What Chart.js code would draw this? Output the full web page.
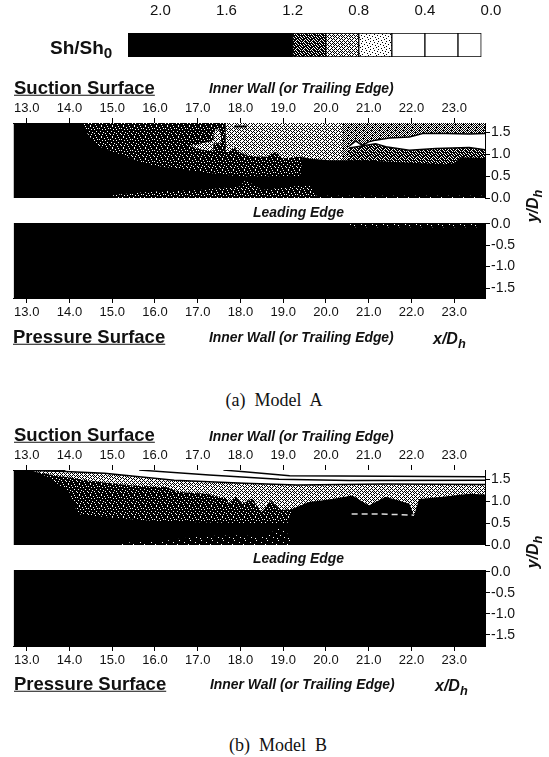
<!DOCTYPE html>
<html lang="en">
<head>
<meta charset="UTF-8">
<title>Sh/Sh0 contours, Model A and Model B</title>
<script src="https://cdn.jsdelivr.net/npm/chart.js"></script>
<style>
    html, body { margin: 0; padding: 0; background: #fff; overflow: hidden; }
    body { width: 549px; height: 757px; position: relative; color: #111; font-family: "Liberation Sans", Arial, sans-serif; }
    canvas { position: absolute; left: 0; }
    .t { position: absolute; line-height: 1; white-space: pre; transform: translateY(-50%); }
    .surface { font-weight: bold; font-size: 18.5px; text-decoration: underline; }
    .edge { font-weight: bold; font-style: italic; font-size: 13.9px; }
    .axis { font-weight: bold; font-style: italic; font-size: 16px; }
    .caption { font-family: "Liberation Serif", serif; font-size: 18px; }
    sub { font-size: 80%; line-height: 0; }
</style>
</head>
<body>
<canvas id="legend" width="549" height="70" style="top:0"></canvas>
<canvas id="aSuction" width="549" height="135" style="top:93px"></canvas>
<canvas id="aPressure" width="549" height="135" style="top:193px"></canvas>
<canvas id="bSuction" width="549" height="135" style="top:440px"></canvas>
<canvas id="bPressure" width="549" height="136" style="top:540px"></canvas>

<div class="t" style="left:50px;top:47px;font-weight:bold;font-size:19px">Sh/Sh<sub>0</sub></div>

<div class="t surface" style="left:14px;top:88px">Suction Surface</div>
<div class="t edge" style="left:209px;top:89px">Inner Wall (or Trailing Edge)</div>
<div class="t edge" style="left:253px;top:213px">Leading Edge</div>
<div class="t surface" style="left:13px;top:337px">Pressure Surface</div>
<div class="t edge" style="left:209px;top:338px">Inner Wall (or Trailing Edge)</div>
<div class="t axis" style="left:433px;top:339px">x/D<sub>h</sub></div>
<div class="t axis" style="left:533px;top:206px;transform:translate(-50%,-50%) rotate(-90deg)">y/D<sub>h</sub></div>
<div class="t caption" style="left:274px;top:400px;transform:translate(-50%,-50%)">(a)  Model  A</div>

<div class="t surface" style="left:14px;top:435px">Suction Surface</div>
<div class="t edge" style="left:209px;top:437px">Inner Wall (or Trailing Edge)</div>
<div class="t edge" style="left:253px;top:559px">Leading Edge</div>
<div class="t surface" style="left:14px;top:684px">Pressure Surface</div>
<div class="t edge" style="left:210px;top:685px">Inner Wall (or Trailing Edge)</div>
<div class="t axis" style="left:435px;top:686px">x/D<sub>h</sub></div>
<div class="t axis" style="left:533px;top:552px;transform:translate(-50%,-50%) rotate(-90deg)">y/D<sub>h</sub></div>
<div class="t caption" style="left:278px;top:745px;transform:translate(-50%,-50%)">(b)  Model  B</div>

<script>
    // axis ticks
    const xTicks = [13, 14, 15, 16, 17, 18, 19, 20, 21, 22, 23];
    const yTicksSuction = [0, 0.5, 1, 1.5];
    const yTicksPressure = [0, -0.5, -1, -1.5];
    const legendTicks = [2, 1.6, 1.2, 0.8, 0.4, 0];

    // colour bar cells
    const legendHigh = [2.196, 1.2, 1.0, 0.8, 0.6, 0.4, 0.2];
    const legendLow = [1.2, 1.0, 0.8, 0.6, 0.4, 0.2, 0.059];

    // Model A suction surface, contour edges
    const aLightX = [17.65, 20.4];
    const aLightY = [1.71, 1.71];
    const aMidX = [20.4, 23.72];
    const aMidY = [1.71, 1.71];
    const aLensTopX = [20.54, 20.7, 20.85, 21.0, 21.16, 21.48, 21.95, 22.26, 22.8, 23.35, 23.72];
    const aLensTopY = [1.18, 1.3, 1.2, 1.28, 1.32, 1.37, 1.39, 1.47, 1.47, 1.46, 1.47];
    const aLensBottomX = [20.54, 21.16, 21.4, 21.95, 22.57, 23.35, 23.72];
    const aLensBottomY = [1.14, 1.24, 1.17, 1.09, 1.13, 1.15, 1.1];
    const aDarkX = [14.2, 17.63, 17.65, 17.73, 17.84, 18.0, 18.2, 18.59, 18.82, 18.98, 19.37, 19.45];
    const aDarkY = [1.71, 1.71, 1.05, 1.05, 1.17, 1.03, 0.96, 0.94, 1.05, 0.9, 0.94, 0.94];
    const aBlobX = [16.81, 17.1, 17.36, 17.37, 17.42, 17.5, 17.55];
    const aBlobTop = [1.18, 1.25, 1.3, 1.45, 1.56, 1.56, 1.45];
    const aBlobBottom = [1.18, 1.1, 1.08, 1.25, 1.25, 1.25, 1.25];
    const aBlackX = [12.69, 14.3, 14.4, 14.63, 15.33, 15.88, 17.05, 17.98, 19.4, 19.45, 19.6, 20.07, 20.85, 21.63, 22.26, 22.8, 23.0, 23.15, 23.72];
    const aBlackY = [1.71, 1.71, 1.5, 1.2, 0.94, 0.75, 0.6, 0.49, 0.5, 0.94, 0.9, 0.86, 0.86, 0.82, 0.79, 0.77, 0.79, 0.93, 0.91];
    const aStripX = [15.02, 15.88, 17.05, 17.98, 18.12, 18.5, 19.6, 19.76];
    const aStripY = [0.07, 0.14, 0.18, 0.26, 0.41, 0.18, 0.3, 0.09];
    const aThinX = [19.76, 23.72];
    const aThinY = [0.05, 0.05];
    const aDashX = [17.85, 18.15];
    const aDashY = [1.63, 1.63];

    // Model A pressure surface
    const aSpeckX = [20.55, 23.65];
    const aSpeckY = [-0.08, -0.08];

    // Model B suction surface
    const bWhiteX = [13.9, 23.72];
    const bWhiteY = [1.71, 1.71];
    const bLine1X = [17.6, 18.09, 19.15, 23.72];
    const bLine1Y = [1.71, 1.67, 1.58, 1.56];
    const bLine2X = [15.63, 17.27, 18.9, 20.55, 23.72];
    const bLine2Y = [1.71, 1.6, 1.5, 1.47, 1.48];
    const bGrayX = [13.1, 13.9, 14.82, 16.45, 18.09, 19.32, 21.36, 23.72];
    const bGrayY = [1.7, 1.68, 1.64, 1.48, 1.41, 1.37, 1.39, 1.38];
    const bDarkX = [13.16, 13.93, 14.71, 15.49, 16.27, 16.58, 17.2, 17.67, 17.73, 17.88, 18.04, 18.27, 18.5, 18.7, 18.94, 19.21];
    const bDarkY = [1.67, 1.55, 1.44, 1.36, 1.32, 1.21, 1.17, 1.06, 0.94, 1.1, 0.94, 1.06, 0.75, 1.02, 0.8, 0.82];
    const bBlackX = [12.69, 13.1, 13.5, 14.0, 14.2, 15, 16, 17, 18, 19.1, 19.21, 19.6, 20.07, 20.62, 21.0, 21.4, 21.95, 22.06, 22.18, 22.73, 23.35, 23.72];
    const bBlackY = [1.71, 1.71, 1.55, 1.2, 0.7, 0.62, 0.55, 0.52, 0.5, 0.5, 0.82, 0.98, 1.04, 1.13, 0.9, 1.1, 0.94, 0.68, 1.05, 1.1, 1.17, 1.15];
    const bStripX = [15.2, 16.2, 17.0, 18.0, 18.5, 18.98, 19.2];
    const bStripY = [0.05, 0.09, 0.2, 0.22, 0.18, 0.41, 0.12];
    const bSpotX = [20.6, 21.1, 21.5, 22.06];
    const bSpotY = [0.71, 0.71, 0.7, 0.68];

    // Halftone tiles, 1 is a white dot
    function tile(rows) {
        const c = document.createElement('canvas');
        c.width = rows[0].length;
        c.height = rows.length;
        const g = c.getContext('2d');
        g.fillStyle = '#000';
        g.fillRect(0, 0, c.width, c.height);
        g.fillStyle = '#fff';
        rows.forEach((row, y) => [...row].forEach((v, x) => {
            if (v === '1') g.fillRect(x, y, 1, 1);
        }));
        return g.createPattern(c, 'repeat');
    }
    const sparse = tile(['00000000000', '00010000000', '00000000000', '00000000100', '00000000000', '01000000000', '00000000000', '00000100000', '00000000000', '00000000010', '00100000000']);
    const speck = tile(['00100000100', '00000100000', '10000000010', '00010010000', '00000000000', '01000000100', '00001000000', '00000010001', '10010000000', '00000001000', '00100000000']);
    const dense = tile(['10100100', '00010001', '10001010', '01000000', '00101001', '10000100', '00010010', '01001000']);
    const check = tile(['10101010', '01010101', '10100010', '01010101', '10101010', '01000101', '10101010', '01010100']);
    const light = tile(['11101110', '01010101', '10111011', '01010101', '11101010', '01011101', '10101011', '01110101']);
    const pale = tile(['11111011', '11011111', '11111101', '10111111', '11110111', '11111110', '11011111', '01111111']);

    const pts = (xs, ys) => xs.map((x, i) => ({ x: x, y: ys[i] }));

    // one contour edge, filled down to the axis floor unless fill says otherwise
    function band(xs, ys, colour, extra) {
        return Object.assign({
            data: pts(xs, ys),
            backgroundColor: colour,
            borderColor: '#000',
            borderWidth: 0,
            fill: 'start',
            pointRadius: 0,
            tension: 0
        }, extra || {});
    }
    function line(xs, ys, colour, width, extra) {
        return band(xs, ys, colour, Object.assign({ fill: false, borderColor: colour, borderWidth: width }, extra || {}));
    }

    function panel(id, canvasTop, plotTop, plotBottom, xOnTop, yMin, yMax, yTicks, layers) {
        // later layers have to paint over earlier ones
        layers.forEach((d, i) => { d.order = layers.length - i; });
        const side = 30;
        new Chart(document.getElementById(id), {
            type: 'line',
            data: { datasets: layers },
            options: {
                responsive: false,
                animation: false,
                events: [],
                layout: {
                    padding: {
                        left: 13.5,
                        right: 0,
                        top: xOnTop ? 0 : plotTop - canvasTop,
                        bottom: xOnTop ? document.getElementById(id).height - (plotBottom - canvasTop) : 0
                    }
                },
                plugins: { legend: { display: false }, tooltip: { enabled: false } },
                scales: {
                    x: {
                        type: 'linear',
                        position: xOnTop ? 'top' : 'bottom',
                        min: 12.69,
                        max: 23.72,
                        afterBuildTicks: s => { s.ticks = xTicks.map(v => ({ value: v })); },
                        afterFit: s => {
                            s.height = xOnTop ? plotTop - canvasTop : document.getElementById(id).height - (plotBottom - canvasTop);
                        },
                        grid: { drawOnChartArea: false, tickLength: 5, color: '#000' },
                        border: { color: '#000' },
                        ticks: {
                            autoSkip: false,
                            maxRotation: 0,
                            padding: 2,
                            color: '#111',
                            font: { family: '"Liberation Sans", Arial, sans-serif', size: 13 },
                            callback: v => v.toFixed(1)
                        }
                    },
                    y: {
                        type: 'linear',
                        position: 'right',
                        min: yMin,
                        max: yMax,
                        afterBuildTicks: s => { s.ticks = yTicks.map(v => ({ value: v })); },
                        afterFit: s => { s.width = 64; },
                        grid: { drawOnChartArea: false, tickLength: 5, color: '#000' },
                        border: { color: '#000' },
                        ticks: {
                            autoSkip: false,
                            padding: 1,
                            color: '#111',
                            font: { family: '"Liberation Sans", Arial, sans-serif', size: 14 },
                            callback: v => v.toFixed(1)
                        }
                    }
                }
            }
        });
    }

    // colour bar
    const legendFill = ['#000', dense, light, pale, '#fff', '#fff', '#fff'];
    new Chart(document.getElementById('legend'), {
        type: 'bar',
        data: {
            labels: ['Sh/Sh0'],
            datasets: legendHigh.map((h, i) => ({
                data: [[legendLow[i], h]],
                backgroundColor: legendFill[i],
                borderColor: '#000',
                borderWidth: 1,
                borderSkipped: false,
                grouped: false,
                barPercentage: 1,
                categoryPercentage: 1
            }))
        },
        options: {
            indexAxis: 'y',
            responsive: false,
            animation: false,
            events: [],
            layout: { padding: { left: 128, right: 58, top: 0, bottom: 13 } },
            plugins: { legend: { display: false }, tooltip: { enabled: false } },
            scales: {
                x: {
                    type: 'linear',
                    position: 'top',
                    reverse: true,
                    min: 0,
                    max: 2.196,
                    afterBuildTicks: s => { s.ticks = legendTicks.map(v => ({ value: v })); },
                    afterFit: s => { s.height = 33; },
                    grid: { display: false },
                    border: { display: false },
                    ticks: {
                        autoSkip: false,
                        maxRotation: 0,
                        padding: 5,
                        color: '#111',
                        font: { family: '"Liberation Sans", Arial, sans-serif', size: 15 },
                        callback: v => v.toFixed(1)
                    }
                },
                y: { display: false }
            }
        }
    });

    panel('aSuction', 93, 123, 198, true, 0, 1.711, yTicksSuction, [
        band([12.69, 23.72], [1.711, 1.711], '#000'),
        band(aLightX, aLightY, light),
        band(aMidX, aMidY, check),
        band(aLensTopX, aLensTopY, '#fff', { borderWidth: 1.5 }),
        band(aLensBottomX, aLensBottomY, dense, { borderWidth: 1.5 }),
        band(aDarkX, aDarkY, speck),
        band(aBlobX, aBlobTop, light, { fill: '+1' }),
        band(aBlobX, aBlobBottom, light, { fill: false }),
        band(aBlackX, aBlackY, '#000'),
        band(aStripX, aStripY, speck),
        band(aThinX, aThinY, sparse),
        line(aDashX, aDashY, '#000', 2)
    ]);

    panel('aPressure', 193, 223, 298, false, -1.733, 0.02, yTicksPressure, [
        band([12.69, 23.72], [0.02, 0.02], '#000'),
        band(aSpeckX, aSpeckY, sparse, { fill: 'end' })
    ]);

    panel('bSuction', 440, 470, 545, true, 0, 1.712, yTicksSuction, [
        band([12.69, 23.72], [1.712, 1.712], '#000'),
        band(bWhiteX, bWhiteY, '#fff'),
        line(bLine1X, bLine1Y, '#000', 1.5),
        line(bLine2X, bLine2Y, '#000', 1.5),
        band(bGrayX, bGrayY, light, { borderWidth: 1.5 }),
        band(bDarkX, bDarkY, speck),
        band(bBlackX, bBlackY, '#000'),
        band(bStripX, bStripY, sparse),
        line(bSpotX, bSpotY, '#ddd', 1.5, { borderDash: [6, 4] })
    ]);

    panel('bPressure', 540, 570, 646, false, -1.763, 0.04, yTicksPressure, [
        band([12.69, 23.72], [0.04, 0.04], '#000')
    ]);
</script>
</body>
</html>
